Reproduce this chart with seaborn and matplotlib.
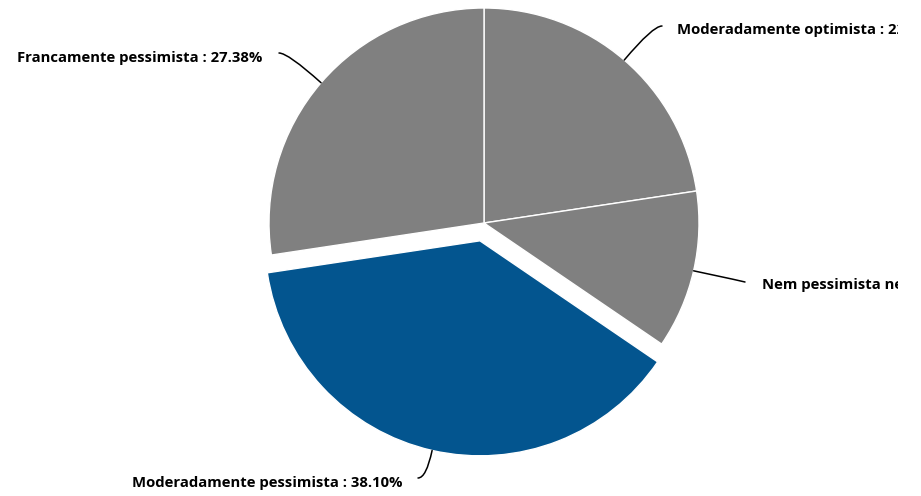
import numpy as np
import matplotlib
matplotlib.use("Agg")
import matplotlib.pyplot as plt
import matplotlib.transforms as mtransforms
import seaborn as sns

labels = ["Moderadamente optimista", "Nem pessimista nem optimista",
          "Moderadamente pessimista", "Francamente pessimista"]
shares = [22.62, 11.90, 38.10, 27.38]
colors = ["#808080", "#808080", "#03558f", "#808080"]
explode = [0, 0, 0.085, 0]

sns.set_style("white")
plt.rcParams["font.family"] = ["Open Sans", "DejaVu Sans"]

fig = plt.figure(figsize=(9.21, 4.96), dpi=100)
ax = fig.add_axes([0, 0, 1, 1])
R = 215.0  # pixels per unit radius
cx, cy = 484, 223

wedges, _ = ax.pie(shares, colors=colors, explode=explode, startangle=90,
                   counterclock=False, radius=1,
                   wedgeprops=dict(edgecolor="white", linewidth=1))
ax.set_aspect("equal")
ax.set_xlim(-cx / R, (921 - cx) / R)
ax.set_ylim(-(496 - cy) / R, cy / R)
ax.axis("off")


def px(x, y):
    return (x - cx) / R, (cy - y) / R


# chart area in the original ends before the right edge, labels get cut there
clip = mtransforms.TransformedBbox(
    mtransforms.Bbox([[0, 0], [898 / 921, 1]]), fig.transFigure)

# label end point of connector, text anchor, alignment, connector angle at wedge
label_pos = [
    ((662, 26), (677, 30), "left", 50),
    ((745, 282), (762, 285), "left", -12),
    ((418, 478), (402, 483), "right", 78),
    ((279, 53), (262, 58), "right", -42),
]

for w, lab, val, (end, tpos, ha, ang) in zip(wedges, labels, shares, label_pos):
    mid = np.deg2rad((w.theta1 + w.theta2) / 2)
    x0 = w.center[0] + np.cos(mid)
    y0 = w.center[1] + np.sin(mid)
    ax.annotate("", xy=(x0, y0), xytext=px(*end),
                arrowprops=dict(arrowstyle="-", color="black", lw=1.1,
                                shrinkA=0, shrinkB=0,
                                connectionstyle=f"angle3,angleA=0,angleB={ang}"))
    t = ax.text(*px(*tpos), f"{lab} : {val:.2f}%", ha=ha, va="center",
                fontsize=10.75, fontweight="bold", color="black")
    t.set_clip_box(clip)
    t.set_clip_on(True)

plt.savefig("out.png", dpi=100)
